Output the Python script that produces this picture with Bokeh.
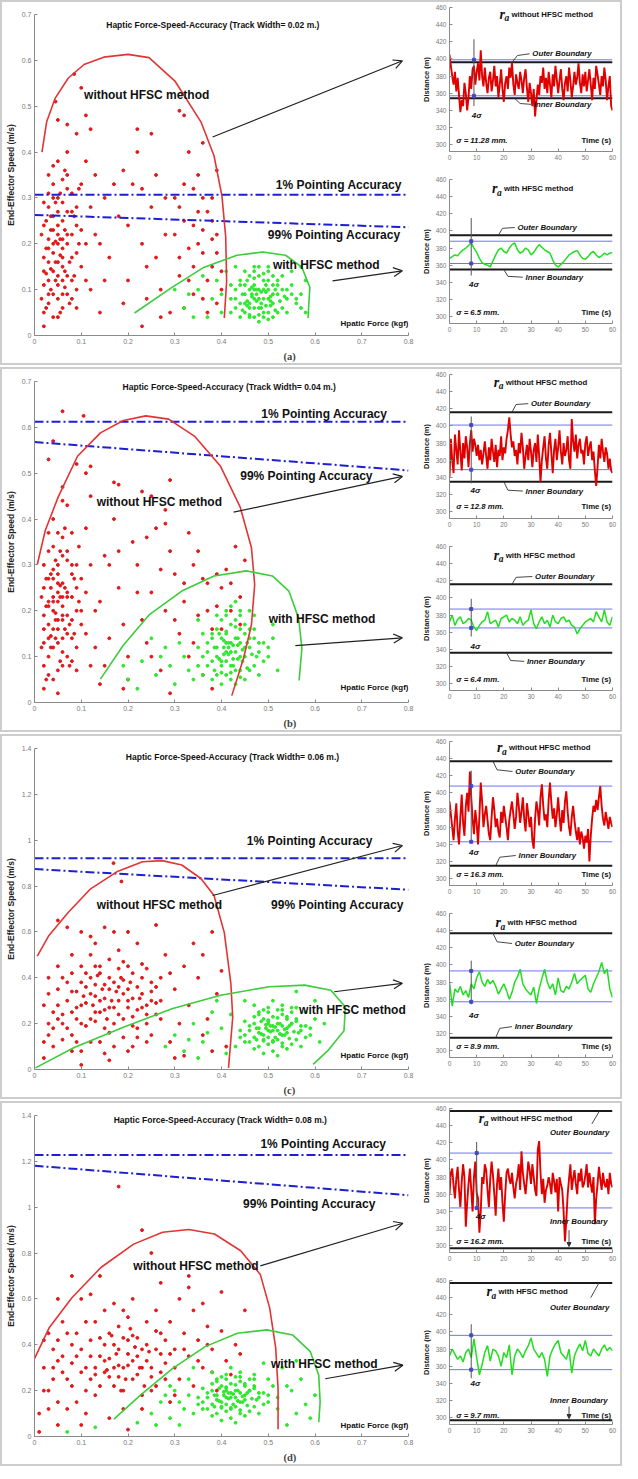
from bokeh.plotting import figure
from bokeh.layouts import row, column
from bokeh.models import Label, Arrow, OpenHead, NormalHead, FixedTicker, Range1d, Title
from bokeh.embed import file_html
from bokeh.resources import INLINE

FONT = "Liberation Sans"
SERIF = "Liberation Serif"

# ---------------- axis ticks ----------------
force_ticks = [0, 0.1, 0.2, 0.3, 0.4, 0.5, 0.6, 0.7, 0.8]
force_tick_labels = ["0", "0.1", "0.2", "0.3", "0.4", "0.5", "0.6", "0.7", "0.8"]
speed_ticks_low = [0, 0.1, 0.2, 0.3, 0.4, 0.5, 0.6, 0.7]
speed_tick_labels_low = ["0", "0.1", "0.2", "0.3", "0.4", "0.5", "0.6", "0.7"]
speed_ticks_high = [0, 0.2, 0.4, 0.6, 0.8, 1.0, 1.2, 1.4]
speed_tick_labels_high = ["0", "0.2", "0.4", "0.6", "0.8", "1", "1.2", "1.4"]
time_ticks = [0, 10, 20, 30, 40, 50, 60]
dist_ticks = [300, 320, 340, 360, 380, 400, 420, 440, 460]

track_widths = ["0.02", "0.04", "0.06", "0.08"]
panel_letters = ["(a)", "(b)", "(c)", "(d)"]

# ---------------- scatter data (force kgf, speed m/s) ----------------
red_a = [(0.02,0.05),(0.03,0.12),(0.04,0.18),(0.05,0.22),(0.03,0.28),(0.06,0.15),(0.04,0.09),(0.07,0.2),(0.05,0.3),(0.02,0.17),
         (0.06,0.25),(0.08,0.12),(0.03,0.21),(0.05,0.11),(0.07,0.27),(0.04,0.33),(0.06,0.06),(0.09,0.18),(0.02,0.24),(0.05,0.16),
         (0.08,0.31),(0.04,0.26),(0.03,0.07),(0.06,0.19),(0.07,0.13),(0.05,0.38),(0.09,0.24),(0.02,0.11),(0.04,0.14),(0.06,0.29),
         (0.08,0.08),(0.03,0.31),(0.05,0.2),(0.07,0.35),(0.1,0.15),(0.04,0.04),(0.06,0.12),(0.02,0.02),(0.08,0.22),(0.05,0.27),
         (0.03,0.16),(0.07,0.09),(0.04,0.23),(0.06,0.34),(0.09,0.28),(0.05,0.08),(0.03,0.19),(0.08,0.17),(0.04,0.3),(0.06,0.21),
         (0.1,0.33),(0.02,0.29),(0.07,0.4),(0.05,0.13),(0.09,0.06),(0.035,0.145),(0.055,0.175),(0.045,0.205),(0.065,0.105),(0.025,0.135),
         (0.12,0.1),(0.13,0.22),(0.15,0.3),(0.11,0.38),(0.14,0.05),(0.16,0.17),(0.18,0.26),(0.2,0.12),(0.21,0.33),(0.19,0.07),
         (0.23,0.2),(0.22,0.4),(0.25,0.28),(0.24,0.15),(0.27,0.1),(0.26,0.35),(0.28,0.22),(0.29,0.05),(0.3,0.3),(0.31,0.17),
         (0.32,0.25),(0.33,0.12),(0.34,0.32),(0.35,0.2),(0.36,0.08),(0.37,0.27),(0.38,0.15),(0.39,0.22),(0.35,0.35),(0.33,0.4),
         (0.37,0.05),(0.38,0.3),(0.36,0.18),(0.34,0.24),(0.32,0.06),(0.4,0.1),(0.39,0.36),(0.31,0.13),
         (0.085,0.57),(0.1,0.54),(0.045,0.51),(0.11,0.48),(0.31,0.49),(0.32,0.48),(0.22,0.45),(0.25,0.44),(0.05,0.47),(0.07,0.46),
         (0.12,0.45),(0.09,0.44),(0.36,0.42),(0.27,0.04),(0.23,0.02),
         (0.015,0.08),(0.025,0.19),(0.035,0.26),(0.045,0.12),(0.055,0.31),(0.065,0.23),(0.075,0.16),(0.085,0.26),(0.095,0.2),(0.015,0.22),
         (0.025,0.06),(0.035,0.1),(0.045,0.29),(0.055,0.05),(0.065,0.36),(0.075,0.07),(0.085,0.13),(0.095,0.32),(0.03,0.35),(0.05,0.24),
         (0.04,0.2),(0.06,0.17),(0.02,0.14),(0.07,0.22),(0.08,0.27),(0.045,0.16),(0.055,0.21),(0.035,0.23),(0.065,0.14),(0.025,0.25),
         (0.05,0.04),(0.04,0.37),(0.03,0.09),(0.06,0.09),(0.07,0.32),(0.09,0.1),(0.1,0.23),(0.11,0.2),(0.12,0.28),(0.11,0.12),
         (0.3,0.22),(0.31,0.28),(0.33,0.19),(0.34,0.15),(0.35,0.27),(0.36,0.23),(0.37,0.12),(0.38,0.21),(0.39,0.18),(0.4,0.14),
         (0.32,0.33),(0.36,0.3),(0.38,0.25),(0.34,0.09),(0.39,0.07),(0.14,0.2),(0.17,0.33),(0.2,0.24),(0.23,0.32),(0.26,0.17),
         (0.28,0.3),(0.15,0.12),(0.19,0.36),(0.24,0.08),(0.13,0.35)]
green_a = [(0.48,0.08),(0.46,0.06),(0.5,0.1),(0.47,0.11),(0.49,0.05),(0.45,0.09),(0.51,0.07),(0.48,0.13),(0.44,0.07),(0.52,0.09),
           (0.47,0.04),(0.5,0.12),(0.46,0.1),(0.49,0.08),(0.53,0.06),(0.43,0.1),(0.48,0.06),(0.51,0.11),(0.45,0.05),(0.47,0.08),
           (0.5,0.05),(0.46,0.13),(0.52,0.12),(0.44,0.12),(0.49,0.1),(0.48,0.03),(0.54,0.08),(0.42,0.08),(0.47,0.14),(0.51,0.04),
           (0.45,0.11),(0.5,0.08),(0.46,0.07),(0.53,0.1),(0.48,0.1),(0.44,0.04),(0.49,0.12),(0.47,0.06),(0.52,0.05),(0.43,0.06),
           (0.5,0.14),(0.46,0.04),(0.55,0.11),(0.48,0.15),(0.45,0.07),(0.51,0.09),(0.47,0.1),(0.49,0.04),(0.42,0.11),(0.54,0.05),
           (0.475,0.09),(0.485,0.07),(0.465,0.085),(0.495,0.095),(0.505,0.065),(0.455,0.075),
           (0.32,0.06),(0.35,0.1),(0.38,0.08),(0.36,0.13),(0.4,0.05),(0.34,0.04),(0.39,0.12),(0.41,0.14),(0.37,0.04),(0.33,0.09),
           (0.57,0.06),(0.57,0.09),(0.58,0.12),(0.57,0.15),(0.56,0.08),(0.55,0.14),(0.58,0.05),(0.4,0.09),(0.3,0.1),(0.43,0.15),
           (0.475,0.075),(0.485,0.095),(0.465,0.105),(0.495,0.065),(0.505,0.085),(0.455,0.065),(0.515,0.1),(0.445,0.09),(0.525,0.075),(0.47,0.125),
           (0.49,0.135),(0.46,0.045),(0.5,0.035),(0.48,0.045),(0.52,0.11),(0.44,0.11),(0.53,0.13),(0.43,0.08),(0.54,0.1),(0.51,0.13),
           (0.465,0.09),(0.495,0.11),(0.485,0.06),(0.475,0.1),(0.505,0.075),(0.455,0.12),(0.515,0.055),(0.445,0.055),(0.535,0.085),(0.42,0.05),
           (0.56,0.07),(0.55,0.09),(0.47,0.15),(0.5,0.15),(0.45,0.14)]

red_b = [(0.02,0.03),(0.03,0.1),(0.04,0.16),(0.05,0.22),(0.03,0.27),(0.06,0.18),(0.04,0.12),(0.07,0.24),(0.05,0.3),(0.02,0.19),
         (0.06,0.26),(0.08,0.14),(0.03,0.22),(0.05,0.13),(0.07,0.31),(0.04,0.34),(0.06,0.08),(0.09,0.2),(0.02,0.25),(0.05,0.18),
         (0.08,0.28),(0.04,0.27),(0.03,0.06),(0.06,0.21),(0.07,0.15),(0.05,0.37),(0.09,0.25),(0.02,0.13),(0.04,0.2),(0.06,0.32),
         (0.08,0.09),(0.03,0.33),(0.05,0.24),(0.07,0.19),(0.1,0.17),(0.04,0.05),(0.06,0.14),(0.02,0.08),(0.08,0.23),(0.05,0.28),
         (0.03,0.17),(0.07,0.1),(0.04,0.23),(0.06,0.36),(0.09,0.3),(0.05,0.07),(0.03,0.21),(0.08,0.18),(0.04,0.29),(0.06,0.23),
         (0.1,0.27),(0.02,0.3),(0.07,0.43),(0.05,0.16),(0.09,0.12),(0.06,0.44),(0.08,0.37),(0.045,0.195),(0.055,0.255),(0.035,0.145),
         (0.12,0.08),(0.13,0.2),(0.15,0.32),(0.11,0.38),(0.14,0.04),(0.16,0.14),(0.18,0.25),(0.2,0.1),(0.21,0.35),(0.19,0.03),
         (0.23,0.18),(0.22,0.3),(0.25,0.24),(0.24,0.13),(0.27,0.07),(0.26,0.38),(0.28,0.2),(0.29,0.02),(0.3,0.28),(0.31,0.15),
         (0.32,0.22),(0.33,0.1),(0.34,0.3),(0.35,0.19),(0.36,0.06),(0.37,0.26),(0.38,0.16),(0.39,0.21),(0.35,0.33),(0.33,0.37),
         (0.41,0.29),(0.42,0.2),(0.43,0.34),(0.4,0.25),(0.44,0.23),(0.45,0.31),(0.38,0.03),(0.17,0.4),(0.2,0.05),(0.28,0.42),
         (0.06,0.635),(0.105,0.625),(0.04,0.57),(0.03,0.53),(0.09,0.52),(0.12,0.515),(0.29,0.485),(0.23,0.46),(0.17,0.48),(0.18,0.475),
         (0.12,0.45),(0.11,0.5),(0.06,0.47),(0.25,0.45),(0.28,0.39),
         (0.015,0.12),(0.025,0.21),(0.035,0.28),(0.045,0.14),(0.055,0.33),(0.065,0.25),(0.075,0.17),(0.085,0.27),(0.095,0.22),(0.015,0.23),
         (0.025,0.05),(0.035,0.12),(0.045,0.31),(0.055,0.09),(0.065,0.38),(0.075,0.08),(0.085,0.15),(0.095,0.34),(0.03,0.37),(0.05,0.26),
         (0.04,0.22),(0.06,0.19),(0.02,0.16),(0.07,0.23),(0.08,0.3),(0.045,0.18),(0.055,0.23),(0.035,0.25),(0.065,0.16),(0.025,0.27),
         (0.05,0.02),(0.04,0.4),(0.03,0.14),(0.06,0.11),(0.07,0.33),(0.09,0.07),(0.1,0.2),(0.11,0.24),(0.12,0.3),(0.11,0.15),
         (0.14,0.22),(0.16,0.3),(0.19,0.17),(0.22,0.24),(0.25,0.1),(0.27,0.29),(0.3,0.18),(0.32,0.26),(0.34,0.13),(0.37,0.2),
         (0.4,0.16),(0.42,0.26),(0.44,0.17),(0.39,0.28),(0.13,0.12),(0.15,0.08),(0.18,0.33),(0.24,0.36),(0.29,0.33),(0.36,0.27)]
green_b = [(0.42,0.11),(0.4,0.09),(0.44,0.13),(0.41,0.15),(0.43,0.07),(0.39,0.12),(0.45,0.1),(0.42,0.17),(0.38,0.09),(0.46,0.12),
           (0.41,0.06),(0.44,0.16),(0.4,0.14),(0.43,0.11),(0.47,0.08),(0.37,0.13),(0.42,0.08),(0.45,0.15),(0.39,0.06),(0.41,0.11),
           (0.44,0.07),(0.4,0.18),(0.46,0.16),(0.38,0.15),(0.43,0.14),(0.42,0.05),(0.48,0.11),(0.36,0.1),(0.41,0.19),(0.45,0.05),
           (0.39,0.16),(0.44,0.1),(0.4,0.08),(0.47,0.14),(0.42,0.13),(0.38,0.05),(0.43,0.18),(0.41,0.09),(0.46,0.07),(0.37,0.08),
           (0.44,0.2),(0.4,0.04),(0.49,0.13),(0.42,0.21),(0.39,0.1),(0.45,0.12),(0.41,0.13),(0.43,0.04),(0.36,0.15),(0.48,0.06),
           (0.5,0.1),(0.35,0.12),(0.47,0.19),(0.43,0.22),(0.51,0.14),(0.415,0.12),(0.425,0.095),(0.435,0.125),(0.405,0.105),
           (0.2,0.05),(0.23,0.09),(0.26,0.06),(0.28,0.12),(0.3,0.04),(0.32,0.1),(0.25,0.14),(0.33,0.07),(0.29,0.08),(0.22,0.03),
           (0.31,0.13),(0.34,0.05),(0.27,0.1),(0.19,0.08),(0.35,0.18),(0.52,0.07),(0.51,0.17),
           (0.415,0.105),(0.425,0.125),(0.405,0.135),(0.435,0.095),(0.445,0.115),(0.395,0.095),(0.455,0.13),(0.385,0.12),(0.465,0.105),(0.41,0.155),
           (0.43,0.165),(0.4,0.065),(0.44,0.055),(0.42,0.065),(0.46,0.14),(0.38,0.14),(0.47,0.16),(0.37,0.11),(0.48,0.13),(0.45,0.17),
           (0.405,0.12),(0.435,0.14),(0.425,0.08),(0.415,0.13),(0.445,0.09),(0.395,0.15),(0.455,0.075),(0.385,0.07),(0.475,0.1),(0.36,0.06),
           (0.49,0.09),(0.5,0.12),(0.41,0.2),(0.44,0.19),(0.39,0.19),(0.35,0.08),(0.46,0.2)]

red_c = [(0.02,0.05),(0.03,0.15),(0.04,0.25),(0.05,0.35),(0.06,0.2),(0.07,0.3),(0.08,0.42),(0.09,0.12),(0.1,0.28),(0.11,0.36),
         (0.12,0.22),(0.13,0.32),(0.14,0.45),(0.15,0.18),(0.16,0.27),(0.17,0.38),(0.18,0.3),(0.19,0.22),(0.2,0.35),(0.21,0.42),
         (0.22,0.26),(0.23,0.33),(0.24,0.2),(0.25,0.38),(0.26,0.29),(0.12,0.4),(0.14,0.3),(0.16,0.35),(0.18,0.44),(0.2,0.27),
         (0.13,0.25),(0.15,0.37),(0.17,0.2),(0.19,0.39),(0.21,0.31),(0.11,0.29),(0.09,0.34),(0.08,0.25),(0.07,0.18),(0.06,0.4),
         (0.05,0.28),(0.04,0.1),(0.03,0.33),(0.1,0.45),(0.12,0.5),(0.16,0.48),(0.2,0.45),(0.23,0.4),(0.25,0.3),(0.22,0.18),
         (0.19,0.14),(0.17,0.1),(0.14,0.12),(0.11,0.19),(0.08,0.08),(0.06,0.13),(0.09,0.22),(0.13,0.37),(0.15,0.26),(0.18,0.36),
         (0.21,0.23),(0.24,0.28),(0.26,0.36),(0.14,0.42),(0.1,0.38),(0.05,0.45),(0.03,0.2),(0.02,0.28),(0.15,0.07),(0.2,0.08),
         (0.22,0.14),(0.25,0.15),(0.27,0.22),(0.24,0.44),(0.18,0.52),(0.13,0.55),(0.08,0.5),(0.1,0.02),(0.16,0.04),
         (0.29,0.12),(0.3,0.35),(0.31,0.2),(0.32,0.06),(0.33,0.28),(0.35,0.4),(0.36,0.15),(0.37,0.22),(0.38,0.08),(0.39,0.33),
         (0.4,0.43),(0.41,0.1),(0.29,0.42),(0.34,0.55),(0.36,0.5),(0.38,0.6),(0.3,0.05),(0.28,0.5),(0.32,0.45),(0.27,0.3),
         (0.07,0.62),(0.05,0.65),(0.169,0.9),(0.186,0.82),(0.1,0.6),(0.15,0.62),(0.2,0.6),(0.26,0.63),(0.12,0.58),(0.22,0.55),(0.17,0.6),
         (0.06,0.24),(0.08,0.34),(0.1,0.2),(0.12,0.33),(0.14,0.25),(0.16,0.4),(0.18,0.24),(0.2,0.3),(0.22,0.36),(0.24,0.24),
         (0.07,0.38),(0.09,0.27),(0.11,0.42),(0.13,0.21),(0.15,0.31),(0.17,0.27),(0.19,0.33),(0.21,0.19),(0.23,0.27),(0.25,0.34),
         (0.145,0.35),(0.165,0.3),(0.185,0.4),(0.125,0.28),(0.105,0.32),(0.205,0.38),(0.225,0.31),(0.135,0.41),(0.155,0.22),(0.175,0.34),
         (0.04,0.18),(0.03,0.4),(0.02,0.12),(0.26,0.24),(0.27,0.4),(0.24,0.12),(0.21,0.1),(0.12,0.12),(0.08,0.15),(0.05,0.22),
         (0.1,0.08),(0.13,0.45),(0.19,0.47),(0.23,0.46),(0.16,0.16)]
green_c = [(0.51,0.17),(0.49,0.15),(0.53,0.19),(0.5,0.21),(0.52,0.13),(0.48,0.18),(0.54,0.16),(0.51,0.23),(0.47,0.14),(0.55,0.2),
           (0.5,0.11),(0.53,0.24),(0.49,0.22),(0.52,0.17),(0.56,0.13),(0.46,0.19),(0.51,0.12),(0.54,0.22),(0.48,0.1),(0.5,0.17),
           (0.53,0.1),(0.49,0.26),(0.55,0.25),(0.47,0.23),(0.52,0.2),(0.51,0.08),(0.57,0.17),(0.45,0.15),(0.5,0.27),(0.54,0.09),
           (0.48,0.24),(0.53,0.15),(0.49,0.13),(0.56,0.21),(0.51,0.19),(0.47,0.09),(0.52,0.26),(0.5,0.14),(0.55,0.11),(0.46,0.12),
           (0.53,0.28),(0.49,0.07),(0.58,0.19),(0.51,0.3),(0.48,0.16),(0.54,0.18),(0.5,0.2),(0.52,0.06),(0.45,0.21),(0.57,0.1),
           (0.59,0.15),(0.44,0.17),(0.56,0.27),(0.6,0.22),(0.43,0.1),(0.61,0.12),(0.58,0.25),(0.47,0.28),
           (0.28,0.1),(0.3,0.15),(0.32,0.08),(0.34,0.2),(0.36,0.12),(0.38,0.25),(0.4,0.18),(0.41,0.07),(0.39,0.3),(0.35,0.05),
           (0.42,0.24),(0.37,0.16),(0.33,0.13),(0.62,0.2),(0.6,0.3),(0.56,0.34),(0.45,0.3),
           (0.505,0.165),(0.515,0.185),(0.495,0.195),(0.525,0.155),(0.535,0.175),(0.485,0.155),(0.545,0.19),(0.475,0.18),(0.555,0.165),(0.5,0.215),
           (0.52,0.225),(0.49,0.125),(0.53,0.115),(0.51,0.125),(0.55,0.2),(0.47,0.2),(0.56,0.22),(0.46,0.17),(0.57,0.19),(0.54,0.23),
           (0.495,0.18),(0.525,0.2),(0.515,0.14),(0.505,0.19),(0.535,0.15),(0.485,0.21),(0.545,0.135),(0.475,0.13),(0.565,0.16),(0.45,0.12),
           (0.58,0.14),(0.59,0.18),(0.5,0.25),(0.53,0.26),(0.48,0.25),(0.44,0.14),(0.55,0.27)]

red_d = [(0.01,0.1),(0.02,0.3),(0.03,0.2),(0.04,0.38),(0.05,0.15),(0.06,0.28),(0.07,0.45),(0.08,0.22),(0.09,0.35),(0.1,0.05),
         (0.11,0.3),(0.12,0.42),(0.13,0.18),(0.14,0.35),(0.15,0.28),(0.16,0.45),(0.17,0.22),(0.18,0.38),(0.19,0.3),(0.2,0.42),
         (0.21,0.25),(0.22,0.35),(0.23,0.18),(0.24,0.4),(0.25,0.3),(0.26,0.22),(0.27,0.45),(0.28,0.32),(0.29,0.15),(0.3,0.38),
         (0.15,0.33),(0.17,0.4),(0.19,0.2),(0.21,0.44),(0.23,0.3),(0.16,0.26),(0.18,0.31),(0.2,0.36),(0.22,0.27),(0.14,0.43),
         (0.12,0.25),(0.1,0.38),(0.08,0.32),(0.06,0.5),(0.05,0.42),(0.04,0.25),(0.03,0.45),(0.09,0.15),(0.11,0.1),(0.13,0.5),
         (0.15,0.55),(0.18,0.48),(0.2,0.52),(0.24,0.5),(0.26,0.38),(0.28,0.42),(0.25,0.2),(0.19,0.12),(0.16,0.08),(0.13,0.3),
         (0.07,0.12),(0.05,0.05),(0.02,0.42),(0.1,0.6),(0.12,0.62),(0.17,0.58),(0.21,0.6),(0.23,0.12),(0.27,0.28),(0.29,0.5),
         (0.31,0.25),(0.32,0.45),(0.33,0.35),(0.34,0.55),(0.35,0.42),(0.36,0.3),(0.37,0.48),(0.38,0.38),(0.39,0.2),(0.4,0.46),
         (0.41,0.33),(0.42,0.27),(0.43,0.4),(0.44,0.36),(0.31,0.6),(0.33,0.65),(0.36,0.58),(0.3,0.18),(0.34,0.22),(0.38,0.28),
         (0.23,0.9),(0.25,0.8),(0.18,1.09),(0.08,0.7),(0.33,0.7),(0.4,0.63),(0.45,0.55),(0.14,0.7),(0.27,0.67),(0.05,0.6),
         (0.01,0.02),(0.2,0.03),
         (0.13,0.27),(0.15,0.4),(0.17,0.3),(0.19,0.43),(0.21,0.33),(0.23,0.38),(0.25,0.26),(0.27,0.36),(0.14,0.22),(0.16,0.34),
         (0.18,0.26),(0.2,0.31),(0.22,0.43),(0.24,0.33),(0.26,0.46),(0.155,0.29),(0.175,0.36),(0.195,0.25),(0.215,0.39),(0.235,0.22),
         (0.165,0.44),(0.185,0.2),(0.205,0.47),(0.225,0.3),(0.245,0.37),(0.12,0.35),(0.1,0.28),(0.08,0.4),(0.06,0.35),(0.04,0.3),
         (0.03,0.12),(0.07,0.25),(0.09,0.45),(0.11,0.2),(0.28,0.25),(0.3,0.3),(0.32,0.38),(0.29,0.36),(0.35,0.33),(0.37,0.4),
         (0.02,0.2),(0.05,0.33),(0.11,0.5),(0.19,0.55),(0.26,0.55)]
green_d = [(0.42,0.17),(0.4,0.15),(0.44,0.19),(0.41,0.21),(0.43,0.13),(0.39,0.18),(0.45,0.16),(0.42,0.23),(0.38,0.14),(0.46,0.2),
           (0.41,0.11),(0.44,0.24),(0.4,0.22),(0.43,0.17),(0.47,0.13),(0.37,0.19),(0.42,0.12),(0.45,0.22),(0.39,0.1),(0.41,0.17),
           (0.44,0.1),(0.4,0.26),(0.46,0.25),(0.38,0.23),(0.43,0.2),(0.42,0.08),(0.48,0.17),(0.36,0.15),(0.41,0.27),(0.45,0.09),
           (0.39,0.24),(0.44,0.15),(0.4,0.13),(0.47,0.21),(0.42,0.19),(0.38,0.09),(0.43,0.26),(0.41,0.14),(0.46,0.11),(0.37,0.12),
           (0.44,0.28),(0.4,0.07),(0.49,0.19),(0.42,0.3),(0.39,0.16),(0.45,0.18),(0.41,0.2),(0.43,0.06),(0.36,0.21),(0.48,0.1),
           (0.5,0.15),(0.35,0.17),(0.47,0.27),(0.51,0.22),(0.34,0.1),(0.52,0.12),(0.5,0.25),(0.38,0.28),
           (0.25,0.1),(0.27,0.15),(0.29,0.08),(0.3,0.2),(0.32,0.12),(0.33,0.25),(0.31,0.05),(0.28,0.18),(0.26,0.05),(0.34,0.3),
           (0.53,0.3),(0.55,0.2),(0.56,0.1),(0.57,0.25),(0.58,0.14),(0.54,0.05),(0.59,0.08),(0.56,0.33),(0.49,0.32),(0.07,0.02),
           (0.13,0.04),(0.22,0.06),(0.6,0.18),
           (0.415,0.165),(0.425,0.185),(0.405,0.195),(0.435,0.155),(0.445,0.175),(0.395,0.155),(0.455,0.19),(0.385,0.18),(0.465,0.165),(0.41,0.215),
           (0.43,0.225),(0.4,0.125),(0.44,0.115),(0.42,0.125),(0.46,0.2),(0.38,0.2),(0.47,0.22),(0.37,0.17),(0.48,0.19),(0.45,0.23),
           (0.405,0.18),(0.435,0.2),(0.425,0.14),(0.415,0.19),(0.445,0.15),(0.395,0.21),(0.455,0.135),(0.385,0.13),(0.475,0.16),(0.36,0.12),
           (0.49,0.14),(0.5,0.18),(0.41,0.25),(0.44,0.26),(0.39,0.25),(0.35,0.14),(0.47,0.25),(0.33,0.18),(0.31,0.15),(0.29,0.22),
           (0.52,0.17),(0.54,0.22)]

# envelope curves (force, speed)
red_curve_a = [(0.016,0.40),(0.026,0.466),(0.044,0.517),(0.072,0.561),(0.106,0.591),(0.148,0.607),(0.2,0.613),(0.245,0.606),
               (0.301,0.554),(0.356,0.466),(0.384,0.392),(0.401,0.304),(0.409,0.215),(0.411,0.119),(0.406,0.038)]
green_curve_a = [(0.214,0.049),(0.294,0.105),(0.363,0.149),(0.433,0.175),(0.488,0.182),(0.537,0.175),(0.572,0.149),(0.589,0.105),(0.585,0.038)]
red_curve_b = [(0.006,0.301),(0.023,0.375),(0.051,0.449),(0.092,0.537),(0.141,0.588),(0.19,0.615),(0.238,0.625),(0.287,0.618),
               (0.342,0.581),(0.398,0.515),(0.44,0.426),(0.464,0.338),(0.471,0.257),(0.464,0.169),(0.447,0.096),(0.422,0.015)]
green_curve_b = [(0.141,0.051),(0.19,0.125),(0.245,0.191),(0.315,0.243),(0.384,0.276),(0.453,0.287),(0.509,0.276),(0.544,0.243),
                 (0.565,0.184),(0.572,0.118),(0.566,0.048)]
red_curve_c = [(0.006,0.494),(0.03,0.582),(0.072,0.685),(0.12,0.788),(0.176,0.862),(0.231,0.906),(0.273,0.911),(0.315,0.892),
               (0.356,0.833),(0.384,0.759),(0.406,0.597),(0.42,0.376),(0.424,0.228),(0.415,0.007)]
green_curve_c = [(0.002,0.007),(0.085,0.096),(0.19,0.184),(0.294,0.265),(0.398,0.324),(0.502,0.361),(0.578,0.368),(0.634,0.346),
                 (0.665,0.273),(0.662,0.169),(0.627,0.081),(0.596,0.022)]
red_curve_d = [(0.0,0.34),(0.031,0.473),(0.08,0.605),(0.142,0.737),(0.212,0.839),(0.274,0.891),(0.33,0.903),(0.385,0.883),
               (0.441,0.81),(0.483,0.707),(0.503,0.561),(0.516,0.385),(0.521,0.208),(0.521,0.032)]
green_curve_d = [(0.17,0.076),(0.226,0.179),(0.295,0.296),(0.365,0.392),(0.434,0.45),(0.497,0.465),(0.552,0.443),(0.59,0.37),
                 (0.608,0.267),(0.611,0.15),(0.608,0.062)]

# pointing-accuracy lines: speed at force 0 and 0.8
acc1_a, acc99_a = [0.307, 0.307], [0.263, 0.236]
acc1_b, acc99_b = [0.612, 0.612], [0.568, 0.506]
acc1_c, acc99_c = [0.921, 0.921], [0.874, 0.784]
acc1_d, acc99_d = [1.228, 1.228], [1.181, 1.052]

# ---------------- distance time series (m), 0..60 s ----------------
dist_red_a = [405,392,380,370,385,362,378,358,338,352,345,372,360,340,355,380,365,388,392,370,385,
              395,375,410,380,368,390,372,360,378,385,362,375,392,368,380,355,370,388,365,350,
              372,380,365,390,378,396,370,358,382,372,365,385,375,360,378,388,366,350,372,360,
              345,365,333,352,370,358,380,372,390,365,378,360,385,370,355,382,368,392,376,360,
              375,388,365,352,372,380,362,390,375,355,368,385,370,378,395,372,360,382,368,385,
              362,375,388,370,352,378,365,392,382,370,358,380,368,390,375,352,368,380,345,340]
dist_green_a = [368,370,372,371,375,378,380,383,386,380,375,368,363,361,360,358,365,372,378,380,376,374,380,384,386,378,
                374,376,380,378,372,375,380,384,381,378,376,374,366,360,358,361,364,368,372,374,376,377,372,368,367,370,
                374,376,372,369,371,374,372,374,375]
dist_red_b = [340,385,360,345,390,372,355,395,370,348,380,362,388,375,352,380,395,370,385,378,365,
              378,360,372,355,368,382,365,350,375,360,385,370,358,378,352,372,365,388,360,375,
              368,385,395,410,390,375,382,365,372,355,380,368,392,375,350,365,378,360,385,370,
              352,372,380,358,390,365,335,360,375,388,362,350,378,392,368,345,372,385,360,375,
              395,370,355,380,365,372,388,360,350,408,382,370,390,362,378,385,368,372,355,380,
              388,365,375,382,360,370,348,330,352,378,362,385,370,358,375,368,350,362,348,345]
dist_green_b = [372,380,368,375,378,370,372,376,374,366,362,368,372,374,384,370,372,374,366,376,378,380,372,376,374,370,
                378,368,372,374,386,370,364,372,378,370,374,366,380,372,370,376,378,372,374,368,366,358,364,368,372,374,
                376,372,384,378,372,386,372,368,378]
dist_red_c = [390,375,360,345,370,388,355,340,372,398,365,350,385,400,378,425,395,370,352,380,365,
              340,372,412,390,360,375,385,368,352,345,372,395,380,360,370,355,348,378,365,385,
              372,360,345,368,380,390,375,358,372,400,385,365,378,395,370,355,388,375,360,372,
              345,335,370,390,380,362,395,410,385,368,375,360,392,412,388,370,382,360,375,395,
              372,355,380,365,390,402,378,360,350,372,385,368,355,345,360,340,355,348,335,350,
              342,358,320,350,370,385,378,392,380,395,408,385,370,362,378,368,358,372,365,360]
dist_green_c = [380,352,372,368,375,365,370,362,378,372,385,392,380,375,383,378,382,375,366,372,378,370,360,368,380,386,
                395,378,372,368,365,374,355,372,384,395,380,372,378,365,385,370,368,375,372,380,390,378,382,385,388,372,
                368,378,385,392,403,390,395,372,362]
dist_red_d = [360,385,390,370,355,378,392,365,345,375,395,380,322,350,372,390,365,340,380,398,362,
              355,315,340,380,372,395,388,365,345,378,398,382,360,335,372,390,365,380,350,328,
              360,385,390,378,372,385,368,355,372,380,395,365,410,385,372,360,378,398,388,372,
              395,380,365,358,412,422,385,360,378,350,365,370,380,372,360,385,375,362,378,340,
              380,372,365,340,305,330,360,378,395,365,378,388,372,360,385,375,390,368,372,382,
              395,368,385,372,362,380,325,355,372,392,378,365,385,372,368,378,360,385,372,368]
dist_green_d = [372,380,374,368,372,365,376,380,370,392,370,350,362,376,384,366,380,378,372,360,376,370,385,350,372,380,
                376,370,378,384,393,380,375,370,376,368,348,372,380,386,390,376,372,368,380,352,372,380,386,378,390,375,
                372,380,376,372,380,385,378,382,378]

# boundaries (outer, inner) and +-2 sigma band (upper, lower), distance in m
bounds = [[396, 354], [395, 355], [416, 335], [416, 336], [437, 315], [437, 315], [457, 297], [457, 297]]
bands = [[399, 357], [388, 362], [401, 349], [387, 365], [408, 343], [393, 357], [408, 344], [396, 356]]
sigma_values = ["11.28", "6.5", "12.8", "6.4", "16.3", "8.9", "16.2", "9.7"]

# ---------------- helpers ----------------
def pts_x(pts):
    return [p[0] for p in pts]

def pts_y(pts):
    return [p[1] for p in pts]

def style_axis(ax, size):
    ax.axis_line_color = "#8a8a8a"
    ax.major_tick_line_color = "#8a8a8a"
    ax.major_tick_in = 3
    ax.major_tick_out = 0
    ax.minor_tick_line_color = None
    ax.major_label_text_font = FONT
    ax.major_label_text_font_size = size
    ax.major_label_text_color = "#7a7a7a"
    ax.major_label_standoff = 3
    ax.axis_label_text_font = FONT
    ax.axis_label_text_font_style = "bold"
    ax.axis_label_text_color = "#222222"
    ax.axis_label_standoff = 3

def txt(p, x, y, s, size, style="bold", align="center", font=FONT, xo=0, yo=0, color="#111111"):
    p.add_layout(Label(x=x, y=y, text=s, text_font=font, text_font_size=size, text_font_style=style,
                       text_align=align, text_baseline="middle", x_offset=xo, y_offset=yo, text_color=color))

left_cfg = [
    dict(title=(0.384, 0.678), wo=(0.24, 0.525), w=(0.624, 0.153), a1=(0.651, 0.329), a99=(0.641, 0.220), force_y=0.027,
         ra=(0.381, 0.433, 0.787, 0.599), ga=(0.6375, 0.119, 0.787, 0.141), wo_text="without HFSC method"),
    dict(title=(0.419, 0.688), wo=(0.267, 0.437), w=(0.615, 0.182), a1=(0.62, 0.63), a99=(0.582, 0.494), force_y=0.032,
         ra=(0.426, 0.415, 0.787, 0.493), ga=(0.558, 0.124, 0.787, 0.141), wo_text="without HFSC method"),
    dict(title=(0.426, 1.363), wo=(0.267, 0.719), w=(0.68, 0.261), a1=(0.589, 0.995), a99=(0.648, 0.719), force_y=0.059,
         ra=(0.381, 0.759, 0.787, 0.977), ga=(0.641, 0.339, 0.787, 0.376), wo_text="without HFSC method"),
    dict(title=(0.4, 1.382), wo=(0.349, 0.744), w=(0.62, 0.318), a1=(0.618, 1.277), a99=(0.588, 1.016), force_y=0.047,
         ra=(0.483, 0.744, 0.788, 0.93), ga=(0.622, 0.252, 0.788, 0.311), wo_text="without  HFSC method"),
]

def left_plot(i, red, green, rc, gc, acc1, acc99, ymax, yticks, ylabels):
    c = left_cfg[i]
    p = figure(width=416, height=361, x_range=Range1d(0, 0.8), y_range=Range1d(0, ymax),
               output_backend="svg", toolbar_location=None,
               min_border_left=28, min_border_right=10, min_border_top=12, min_border_bottom=8)
    p.outline_line_color = None
    p.grid.visible = False
    p.background_fill_color = "white"
    p.border_fill_color = "white"
    style_axis(p.xaxis[0], "7px")
    style_axis(p.yaxis[0], "7px")
    p.xaxis.ticker = FixedTicker(ticks=force_ticks)
    p.xaxis.major_label_overrides = dict(zip(force_ticks, force_tick_labels))
    p.yaxis.ticker = FixedTicker(ticks=yticks)
    p.yaxis.major_label_overrides = dict(zip(yticks, ylabels))
    p.yaxis.axis_label = "End-Effector Speed (m/s)"
    p.yaxis.axis_label_text_font_size = "8.5px"
    p.add_layout(Title(text=panel_letters[i], align="left", offset=249, text_font=SERIF,
                       text_font_size="10.5px", text_font_style="bold", standoff=4), "below")

    p.scatter(pts_x(red), pts_y(red), marker="circle", size=2.9, fill_color="#e01818", line_color="#e01818")
    p.scatter(pts_x(green), pts_y(green), marker="circle", size=2.9, fill_color="#2ee82e", line_color="#2ee82e")
    p.line([0, 0.8], acc1, line_color="#1e1ed2", line_width=2, line_dash="9 3 2 3")
    p.line([0, 0.8], acc99, line_color="#1e1ed2", line_width=2, line_dash="9 3 2 3")
    p.line(pts_x(rc), pts_y(rc), line_color="#e23434", line_width=1.6)
    p.line(pts_x(gc), pts_y(gc), line_color="#3ccc3c", line_width=1.6)

    for (x0, y0, x1, y1) in (c["ra"], c["ga"]):
        p.add_layout(Arrow(end=OpenHead(size=9, line_color="#222222", line_width=1.2),
                           x_start=x0, y_start=y0, x_end=x1, y_end=y1,
                           line_color="#222222", line_width=1.2))

    txt(p, c["title"][0], c["title"][1],
        "Haptic Force-Speed-Accuracy (Track Width= %s  m.)" % track_widths[i], "8.5px")
    txt(p, c["wo"][0], c["wo"][1], c["wo_text"], "12px")
    txt(p, c["w"][0], c["w"][1], "with HFSC method", "12px")
    txt(p, c["a1"][0], c["a1"][1], "1% Pointing Accuracy", "12px")
    txt(p, c["a99"][0], c["a99"][1], "99% Pointing Accuracy", "12px")
    txt(p, 0.8, c["force_y"], "Hpatic Force (kgf)", "8px", align="right")
    return p

right_cfg = [
    dict(r=(18.4, 452), m="without HFSC method", ot=(30.5, 406), ol=[(23, 396), (25, 404), (29.5, 406)],
         it=(31, 347), il=[(24, 354), (26, 348), (30, 347)], v=(9, 423, 345), fs=(10, 334), sy=305, arrow=False),
    dict(r=(15.6, 449), m="with HFSC method", ot=(25, 404), ol=[(18, 395), (19.5, 403), (24, 404)],
         it=(28, 346), il=[(20, 355), (21.5, 347), (27, 346)], v=(8, 415, 348), fs=(9, 337), sy=305, arrow=False),
    dict(r=(16.3, 451), m="without HFSC method", ot=(30, 426), ol=[(23, 416), (24.5, 425), (29, 426)],
         it=(28, 324), il=[(20, 335), (21.5, 325), (27, 324)], v=(8, 411, 333), fs=(9.5, 325), sy=306, arrow=False),
    dict(r=(16.3, 450), m="with HFSC method", ot=(31.5, 425), ol=[(23, 416), (24.5, 424), (30.5, 425)],
         it=(28.5, 326), il=[(21, 336), (22.5, 327), (27.5, 326)], v=(8, 399, 355), fs=(9.5, 343), sy=305, arrow=False),
    dict(r=(17.5, 453), m="without HFSC method", ot=(24.2, 425), ol=[(16, 437), (17.5, 427), (23.2, 425)],
         it=(25.4, 327), il=[(17, 315), (18.5, 325), (24.4, 327)], v=(8, 426, 342), fs=(9, 330), sy=305, arrow=False),
    dict(r=(16.9, 449), m="with HFSC method", ot=(24, 425), ol=[(16, 437), (17.5, 427), (23, 425)],
         it=(24, 328), il=[(17, 315), (18.5, 326), (23, 328)], v=(8, 405, 354), fs=(9, 341), sy=305, arrow=False),
    dict(r=(10.8, 448), m="without  HFSC method", ot=(37, 432), ol=[(52.4, 442), (55.2, 457)],
         it=(37, 328), il=[(44, 318), (44, 299)], v=(10, 421, 345), fs=(11.5, 334), sy=305, arrow=True),
    dict(r=(13.6, 447), m="with HFSC method", ot=(37, 428), ol=[(52, 440), (55, 457)],
         it=(37, 320), il=[(44, 313), (44, 299)], v=(8, 409, 346), fs=(9.5, 340), sy=303, arrow=True),
]

def right_plot(k, series, color, width_line, height, mb_bottom):
    c = right_cfg[k]
    p = figure(width=202, height=height, x_range=Range1d(0, 60), y_range=Range1d(292, 460),
               output_backend="svg", toolbar_location=None,
               min_border_left=29, min_border_right=8, min_border_top=5, min_border_bottom=mb_bottom)
    p.outline_line_color = None
    p.grid.visible = False
    style_axis(p.xaxis[0], "6.5px")
    style_axis(p.yaxis[0], "6.5px")
    p.xaxis.ticker = FixedTicker(ticks=time_ticks)
    p.yaxis.ticker = FixedTicker(ticks=dist_ticks)
    p.yaxis.axis_label = "Distance (m)"
    p.yaxis.axis_label_text_font_size = "7.5px"
    p.yaxis.axis_label_standoff = 2

    outer, inner = bounds[k]
    up, lo = bands[k]
    p.line([0, 60], [up, up], line_color="#7070ff", line_width=1)
    p.line([0, 60], [lo, lo], line_color="#7070ff", line_width=1)
    p.line([0, 60], [outer, outer], line_color="#1a1a1a", line_width=2)
    p.line([0, 60], [inner, inner], line_color="#1a1a1a", line_width=2)
    n = len(series)
    t = [60.0 * j / (n - 1) for j in range(n)]
    p.line(t, series, line_color=color, line_width=width_line)
    vt, vtop, vbot = c["v"]
    p.line([vt, vt], [vtop, vbot], line_color="#555555", line_width=1)
    p.scatter([vt, vt], [up, lo], marker="square", size=3, fill_color="#4646c8", line_color="#4646c8")

    # title r_a + method
    txt(p, c["r"][0], c["r"][1], "r", "14px", style="bold italic", align="left", font=SERIF)
    txt(p, c["r"][0], c["r"][1], "a", "9.5px", style="bold italic", align="left", font=SERIF, xo=5, yo=-4)
    txt(p, c["r"][0], c["r"][1], c["m"], "7.8px", align="left", xo=12)
    # boundaries
    txt(p, c["ot"][0], c["ot"][1], "Outer Boundary", "7.8px", style="bold italic", align="left")
    txt(p, c["it"][0], c["it"][1], "Inner Boundary", "7.8px", style="bold italic", align="left")
    p.line(pts_x(c["ol"]), pts_y(c["ol"]), line_color="#333333", line_width=0.9)
    if c["arrow"]:
        (x0, y0), (x1, y1) = c["il"]
        p.add_layout(Arrow(end=NormalHead(size=4, fill_color="#333333", line_color="#333333"),
                           x_start=x0, y_start=y0, x_end=x1, y_end=y1, line_color="#333333", line_width=0.9))
    else:
        p.line(pts_x(c["il"]), pts_y(c["il"]), line_color="#333333", line_width=0.9)
    txt(p, c["fs"][0], c["fs"][1], "4σ", "8px", style="bold italic")
    txt(p, 2.5, c["sy"], "σ  =  %s  mm." % sigma_values[k], "7.8px", style="bold italic", align="left")
    txt(p, 59.5, c["sy"], "Time (s)", "7.8px", align="right")
    return p

panels = [
    (red_a, green_a, red_curve_a, green_curve_a, acc1_a, acc99_a, 0.7, speed_ticks_low, speed_tick_labels_low, dist_red_a, dist_green_a),
    (red_b, green_b, red_curve_b, green_curve_b, acc1_b, acc99_b, 0.7, speed_ticks_low, speed_tick_labels_low, dist_red_b, dist_green_b),
    (red_c, green_c, red_curve_c, green_curve_c, acc1_c, acc99_c, 1.4, speed_ticks_high, speed_tick_labels_high, dist_red_c, dist_green_c),
    (red_d, green_d, red_curve_d, green_curve_d, acc1_d, acc99_d, 1.4, speed_ticks_high, speed_tick_labels_high, dist_red_d, dist_green_d),
]

rows = []
for i, (rd, gr, rc, gc, a1, a99, ymax, yt, yl, dr, dg) in enumerate(panels):
    lp = left_plot(i, rd, gr, rc, gc, a1, a99, ymax, yt, yl)
    tp = right_plot(2 * i, dr, "#e00000", 1.9, 172, 23)
    bp = right_plot(2 * i + 1, dg, "#22dd22", 1.5, 189, 40)
    rows.append(row(lp, column(tp, bp), styles={"border": "2px solid #cdcdcd", "background-color": "white"}))

layout = column(*rows, spacing=2)
open("out.html", "w").write(file_html(layout, INLINE, title="Haptic Force-Speed-Accuracy"))
